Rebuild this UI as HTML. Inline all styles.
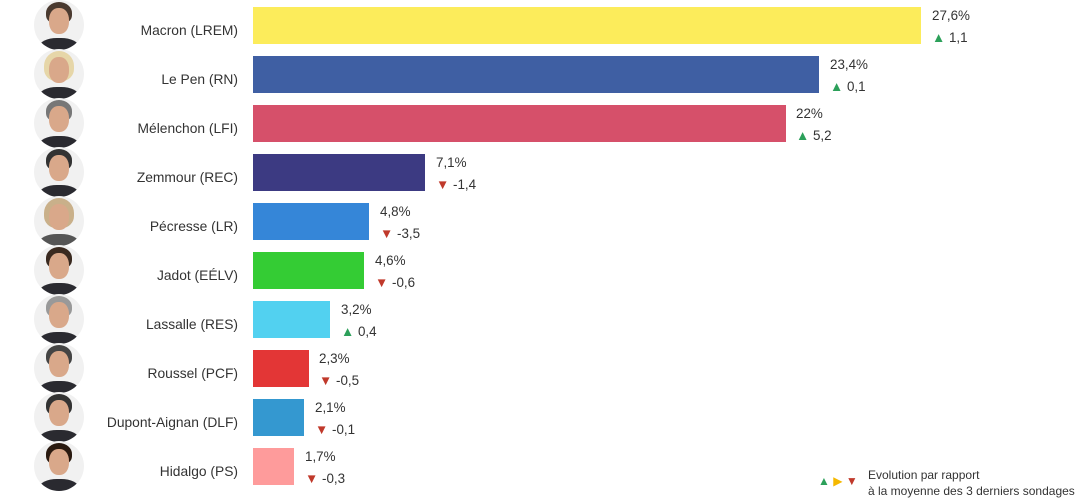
<!DOCTYPE html>
<html><head><meta charset="utf-8"><style>
body{margin:0;width:1078px;height:500px;background:#fff;position:relative;overflow:hidden;font-family:"Liberation Sans",sans-serif;color:#333;font-size:13px}
.a{position:absolute}
.lab{position:absolute;right:840px;text-align:right;white-space:nowrap;font-size:13.8px}
.bar{position:absolute;left:253px;height:37px}
.v{position:absolute;white-space:nowrap;font-size:13.4px}
.up{color:#2ca05a}.dn{color:#c0392b}
.ph{position:absolute;left:34px;width:50px;height:50px;border-radius:50%;background:#f1f1f1;overflow:hidden}
.ph .h{position:absolute;left:12px;top:2px;width:26px;height:22px;border-radius:50% 50% 40% 40%;background:#4a3a30}
.ph .f{position:absolute;left:15px;top:8px;width:20px;height:26px;border-radius:45%;background:#d9a88a}
.ph .s{position:absolute;left:5px;top:38px;width:40px;height:20px;border-radius:45% 45% 0 0;background:#2a2a30}
</style></head><body>
<div class="ph" style="top:0"><div class="h"></div><div class="f"></div><div class="s"></div></div>
<div class="ph" style="top:49px"><div class="h" style="background:#e6d6a8;width:30px;left:10px;height:30px"></div><div class="f"></div><div class="s"></div></div>
<div class="ph" style="top:98px"><div class="h" style="background:#777"></div><div class="f"></div><div class="s"></div></div>
<div class="ph" style="top:147px"><div class="h" style="background:#333"></div><div class="f"></div><div class="s"></div></div>
<div class="ph" style="top:196px"><div class="h" style="background:#c9b08a;width:30px;left:10px;height:30px"></div><div class="f"></div><div class="s" style="background:#555"></div></div>
<div class="ph" style="top:245px"><div class="h" style="background:#3a2a20"></div><div class="f"></div><div class="s"></div></div>
<div class="ph" style="top:294px"><div class="h" style="background:#999"></div><div class="f"></div><div class="s"></div></div>
<div class="ph" style="top:343px"><div class="h" style="background:#444"></div><div class="f"></div><div class="s"></div></div>
<div class="ph" style="top:392px"><div class="h" style="background:#333"></div><div class="f"></div><div class="s"></div></div>
<div class="ph" style="top:441px"><div class="h" style="background:#2a1a10"></div><div class="f"></div><div class="s"></div></div>

<div class="lab" style="top:23px">Macron (LREM)</div>
<div class="lab" style="top:72px">Le Pen (RN)</div>
<div class="lab" style="top:121px">Mélenchon (LFI)</div>
<div class="lab" style="top:170px">Zemmour (REC)</div>
<div class="lab" style="top:219px">Pécresse (LR)</div>
<div class="lab" style="top:268px">Jadot (EÉLV)</div>
<div class="lab" style="top:317px">Lassalle (RES)</div>
<div class="lab" style="top:366px">Roussel (PCF)</div>
<div class="lab" style="top:415px">Dupont-Aignan (DLF)</div>
<div class="lab" style="top:464px">Hidalgo (PS)</div>

<div class="bar" style="top:7px;width:668px;background:#fcec5b"></div>
<div class="bar" style="top:56px;width:566px;background:#3f5fa3"></div>
<div class="bar" style="top:105px;width:533px;background:#d6506a"></div>
<div class="bar" style="top:154px;width:172px;background:#3c3a82"></div>
<div class="bar" style="top:203px;width:116px;background:#3586d8"></div>
<div class="bar" style="top:252px;width:111px;background:#34cc34"></div>
<div class="bar" style="top:301px;width:77px;background:#52d1f0"></div>
<div class="bar" style="top:350px;width:56px;background:#e33636"></div>
<div class="bar" style="top:399px;width:51px;background:#3498d0"></div>
<div class="bar" style="top:448px;width:41px;background:#fe9b9b"></div>

<div class="v" style="left:932px;top:8px">27,6%</div><div class="v" style="left:932px;top:30px"><span class="up">▲</span> 1,1</div>
<div class="v" style="left:830px;top:57px">23,4%</div><div class="v" style="left:830px;top:79px"><span class="up">▲</span> 0,1</div>
<div class="v" style="left:796px;top:106px">22%</div><div class="v" style="left:796px;top:128px"><span class="up">▲</span> 5,2</div>
<div class="v" style="left:436px;top:155px">7,1%</div><div class="v" style="left:436px;top:177px"><span class="dn">▼</span> -1,4</div>
<div class="v" style="left:380px;top:204px">4,8%</div><div class="v" style="left:380px;top:226px"><span class="dn">▼</span> -3,5</div>
<div class="v" style="left:375px;top:253px">4,6%</div><div class="v" style="left:375px;top:275px"><span class="dn">▼</span> -0,6</div>
<div class="v" style="left:341px;top:302px">3,2%</div><div class="v" style="left:341px;top:324px"><span class="up">▲</span> 0,4</div>
<div class="v" style="left:319px;top:351px">2,3%</div><div class="v" style="left:319px;top:373px"><span class="dn">▼</span> -0,5</div>
<div class="v" style="left:315px;top:400px">2,1%</div><div class="v" style="left:315px;top:422px"><span class="dn">▼</span> -0,1</div>
<div class="v" style="left:305px;top:449px">1,7%</div><div class="v" style="left:305px;top:471px"><span class="dn">▼</span> -0,3</div>

<div class="a" style="left:818px;top:474px;font-size:12px"><span class="up">▲</span> <span style="color:#f5b800">▶</span> <span class="dn">▼</span></div>
<div class="a" style="left:868px;top:467px;font-size:12px;line-height:16px;white-space:nowrap">Evolution par rapport<br>à la moyenne des 3 derniers sondages</div>
</body></html>
